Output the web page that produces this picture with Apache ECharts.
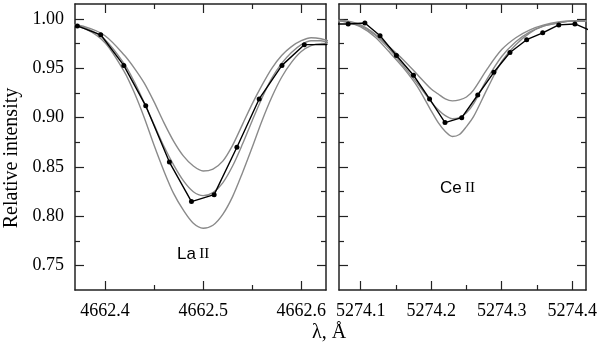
<!DOCTYPE html>
<html>
<head>
<meta charset="utf-8">
<script src="https://cdn.jsdelivr.net/npm/echarts@6/dist/echarts.min.js"></script>
<style>
  html, body { margin: 0; padding: 0; background: #fff; }
  #chart { width: 600px; height: 343px; }
</style>
</head>
<body>
<div id="chart"></div>
<script>
// La II 4662.5 panel
const laWave = [4662.36, 4662.38, 4662.40, 4662.42, 4662.43, 4662.44, 4662.45, 4662.46, 4662.47, 4662.48, 4662.49, 4662.50, 4662.51,
  4662.52, 4662.53, 4662.54, 4662.55, 4662.56, 4662.57, 4662.58, 4662.59, 4662.60, 4662.61, 4662.62, 4662.63]
const laUpper = [0.995, 0.992, 0.983, 0.963, 0.950, 0.935, 0.916, 0.895, 0.876, 0.861, 0.851, 0.846, 0.848,
  0.856, 0.872, 0.893, 0.914, 0.933, 0.950, 0.963, 0.972, 0.978, 0.981, 0.980, 0.977]
const laMiddle = [0.995, 0.991, 0.979, 0.954, 0.936, 0.915, 0.893, 0.871, 0.852, 0.836, 0.825, 0.821, 0.824,
  0.834, 0.851, 0.873, 0.897, 0.920, 0.940, 0.955, 0.966, 0.974, 0.978, 0.978, 0.975]
const laLower = [0.995, 0.990, 0.976, 0.946, 0.925, 0.900, 0.872, 0.846, 0.823, 0.806, 0.793, 0.788, 0.791,
  0.802, 0.820, 0.844, 0.870, 0.897, 0.921, 0.941, 0.956, 0.967, 0.973, 0.975, 0.974]
const laObsWave = [4662.3718, 4662.3956, 4662.4191, 4662.4415, 4662.4656, 4662.4881, 4662.5112, 4662.5344,
  4662.5571, 4662.5803, 4662.6031, 4662.6263]
const laObs = [0.993, 0.984, 0.953, 0.912, 0.855, 0.815, 0.822, 0.870, 0.919, 0.953, 0.974, 0.974]

// Ce II 5274.2 panel
const ceWave = [5274.06, 5274.08, 5274.10, 5274.12, 5274.14, 5274.16, 5274.18, 5274.20, 5274.21, 5274.22, 5274.23,
  5274.24, 5274.25, 5274.26, 5274.28, 5274.30, 5274.32, 5274.34, 5274.36, 5274.38, 5274.40, 5274.42]
const ceUpper = [0.999, 0.998, 0.994, 0.985, 0.972, 0.959, 0.944, 0.929, 0.924, 0.919, 0.917,
  0.918, 0.921, 0.928, 0.950, 0.969, 0.981, 0.989, 0.994, 0.997, 0.998, 0.998]
const ceMiddle = [0.999, 0.997, 0.993, 0.984, 0.970, 0.953, 0.935, 0.916, 0.908, 0.902, 0.899,
  0.900, 0.905, 0.914, 0.940, 0.962, 0.977, 0.987, 0.993, 0.996, 0.998, 0.998]
const ceLower = [0.999, 0.997, 0.992, 0.982, 0.967, 0.951, 0.932, 0.907, 0.895, 0.886, 0.881,
  0.883, 0.891, 0.901, 0.930, 0.957, 0.974, 0.986, 0.993, 0.996, 0.998, 0.998]
const ceObsWave = [5274.059, 5274.0823, 5274.106, 5274.1275, 5274.1507, 5274.1749, 5274.1977, 5274.2196,
  5274.2433, 5274.266, 5274.2888, 5274.3117, 5274.3354, 5274.3581, 5274.3809, 5274.4038, 5274.427]
const ceObs = [0.995, 0.995, 0.996, 0.983, 0.963, 0.943, 0.919, 0.895, 0.900, 0.923, 0.946, 0.966,
  0.979, 0.986, 0.994, 0.995, 0.988]

// ticks and ranges
const laMajor = [4662.4, 4662.5, 4662.6]
const laMinor = [4662.45, 4662.55]
const ceMajor = [5274.1, 5274.2, 5274.3, 5274.4]
const ceMinor = [5274.15, 5274.25, 5274.35]
const yMajor = [0.75, 0.80, 0.85, 0.90, 0.95, 1.00]
const yMinor = [0.775, 0.825, 0.875, 0.925, 0.975]
const laRange = [4662.3694, 4662.6252]
const ceRange = [5274.0693, 5274.4195]
const yRange = [0.7254, 1.0152]

const serif = 'Liberation Serif'
const frame = '#222'
const gray = '#8a8a8a'

const zip = (xs, ys) => xs.map((x, i) => [x, ys[i]])

function xAxes (grid, range, major, minor, digits) {
  const base = {
    type: 'value',
    gridIndex: grid,
    min: range[0],
    max: range[1],
    splitLine: { show: false },
    axisLine: { show: true, onZero: false, lineStyle: { color: frame, width: 1.5 } }
  }
  return [
    Object.assign({}, base, {
      position: 'bottom',
      axisTick: { inside: true, length: 9, customValues: major, lineStyle: { color: frame, width: 1.2 } },
      axisLabel: {
        customValues: major,
        margin: 12,
        fontFamily: serif,
        fontSize: 18,
        color: '#000',
        formatter: v => v.toFixed(digits)
      }
    }),
    Object.assign({}, base, {
      position: 'bottom',
      axisLine: { show: false },
      axisTick: { inside: true, length: 5, customValues: minor, lineStyle: { color: frame, width: 1.2 } },
      axisLabel: { show: false }
    }),
    Object.assign({}, base, {
      position: 'top',
      axisTick: { inside: true, length: 9, customValues: major, lineStyle: { color: frame, width: 1.2 } },
      axisLabel: { show: false }
    }),
    Object.assign({}, base, {
      position: 'top',
      axisLine: { show: false },
      axisTick: { inside: true, length: 5, customValues: minor, lineStyle: { color: frame, width: 1.2 } },
      axisLabel: { show: false }
    })
  ]
}

function yAxes (grid, showLabels) {
  const base = {
    type: 'value',
    gridIndex: grid,
    min: yRange[0],
    max: yRange[1],
    splitLine: { show: false },
    axisLine: { show: true, onZero: false, lineStyle: { color: frame, width: 1.5 } }
  }
  return [
    Object.assign({}, base, {
      position: 'left',
      axisTick: { inside: true, length: 9, customValues: yMajor, lineStyle: { color: frame, width: 1.2 } },
      axisLabel: {
        show: showLabels,
        customValues: yMajor,
        margin: 11,
        fontFamily: serif,
        fontSize: 18,
        color: '#000',
        formatter: v => v.toFixed(2)
      }
    }),
    Object.assign({}, base, {
      position: 'left',
      axisLine: { show: false },
      axisTick: { inside: true, length: 5, customValues: yMinor, lineStyle: { color: frame, width: 1.2 } },
      axisLabel: { show: false }
    }),
    Object.assign({}, base, {
      position: 'right',
      axisTick: { inside: true, length: 9, customValues: yMajor, lineStyle: { color: frame, width: 1.2 } },
      axisLabel: { show: false }
    }),
    Object.assign({}, base, {
      position: 'right',
      axisLine: { show: false },
      axisTick: { inside: true, length: 5, customValues: yMinor, lineStyle: { color: frame, width: 1.2 } },
      axisLabel: { show: false }
    })
  ]
}

function model (data, xi, yi) {
  return {
    type: 'line',
    xAxisIndex: xi,
    yAxisIndex: yi,
    data: data,
    smooth: 0.3,
    showSymbol: false,
    silent: true,
    lineStyle: { color: gray, width: 1.4 }
  }
}

function observed (data, xi, yi) {
  return {
    type: 'line',
    xAxisIndex: xi,
    yAxisIndex: yi,
    data: data,
    symbol: 'circle',
    symbolSize: 5,
    silent: true,
    itemStyle: { color: '#000' },
    lineStyle: { color: '#000', width: 1.4 }
  }
}

const chart = echarts.init(document.getElementById('chart'), null, { renderer: 'canvas' })

chart.setOption({
  animation: false,
  grid: [
    { left: 75, top: 4, width: 251, height: 286 },
    { left: 339, top: 4, width: 251, height: 286 }
  ],
  xAxis: [].concat(xAxes(0, laRange, laMajor, laMinor, 1), xAxes(1, ceRange, ceMajor, ceMinor, 1)),
  yAxis: [].concat(yAxes(0, true), yAxes(1, false)),
  series: [
    model(zip(laWave, laUpper), 0, 0),
    model(zip(laWave, laMiddle), 0, 0),
    model(zip(laWave, laLower), 0, 0),
    observed(zip(laObsWave, laObs), 0, 0),
    model(zip(ceWave, ceUpper), 4, 4),
    model(zip(ceWave, ceMiddle), 4, 4),
    model(zip(ceWave, ceLower), 4, 4),
    observed(zip(ceObsWave, ceObs), 4, 4)
  ],
  graphic: [
    {
      type: 'text',
      x: 12,
      y: 158,
      rotation: Math.PI / 2,
      style: {
        text: 'Relative intensity',
        font: '20px "Liberation Serif"',
        fill: '#000',
        align: 'center',
        verticalAlign: 'middle'
      }
    },
    {
      type: 'text',
      x: 329,
      y: 333,
      style: {
        text: 'λ, Å',
        font: '20px "Liberation Serif"',
        fill: '#000',
        align: 'center',
        verticalAlign: 'middle'
      }
    },
    {
      type: 'text',
      x: 177,
      y: 254,
      style: {
        text: '{a|La} {b|II}',
        verticalAlign: 'middle',
        rich: {
          a: { fontFamily: 'Liberation Sans', fontSize: 17, fill: '#000' },
          b: { fontFamily: serif, fontSize: 15, fill: '#000' }
        }
      }
    },
    {
      type: 'text',
      x: 440,
      y: 188,
      style: {
        text: '{a|Ce} {b|II}',
        verticalAlign: 'middle',
        rich: {
          a: { fontFamily: 'Liberation Sans', fontSize: 17, fill: '#000' },
          b: { fontFamily: serif, fontSize: 15, fill: '#000' }
        }
      }
    }
  ]
})
</script>
</body>
</html>
